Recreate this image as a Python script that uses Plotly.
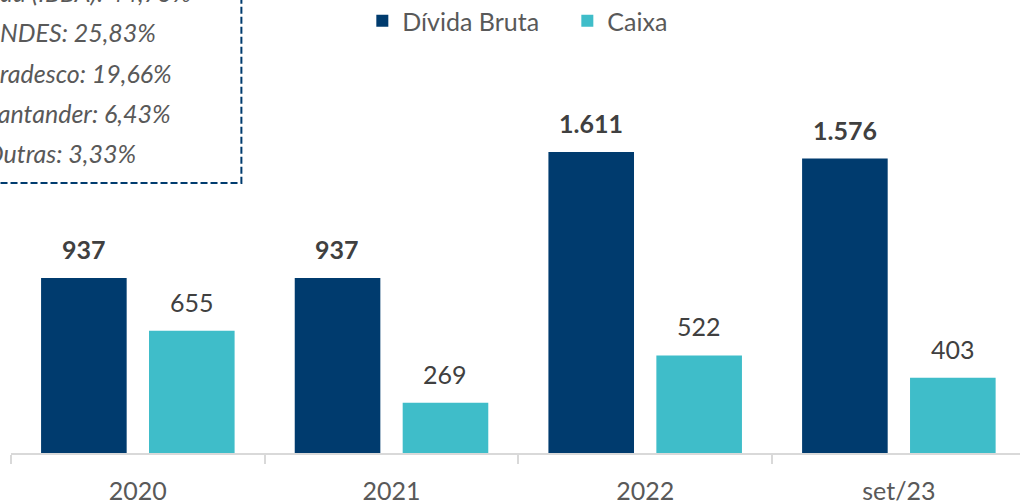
import plotly.graph_objects as go

categories = ["2020", "2021", "2022", "set/23"]
divida_bruta = [937, 937, 1611, 1576]
caixa = [655, 269, 522, 403]
divida_labels = ["937", "937", "1.611", "1.576"]
caixa_labels = ["655", "269", "522", "403"]
box_lines = ["Itaú (IBBA): 44,75%", "BNDES: 25,83%", "Bradesco: 19,66%",
             "Santander: 6,43%", "Outras: 3,33%"]

DARK = "#003B6E"
CYAN = "#3FBDC9"
GRAY = "#595959"
FONT = "Lato"

W, H = 1020, 502
ML, MR, MT, MB = 10.5, 0, 0, 49
PW = W - ML - MR
PH = H - MT - MB
STEP = 253.8


def px(x):
    return (x - ML) / PW


def py(y):
    return (H - MB - y) / PH


fig = go.Figure()
fig.add_trace(go.Bar(name="Dívida Bruta", x=categories, y=divida_bruta,
                     marker=dict(color=DARK, line=dict(width=0))))
fig.add_trace(go.Bar(name="Caixa", x=categories, y=caixa,
                     marker=dict(color=CYAN, line=dict(width=0))))

annotations = []
for i, (v, t) in enumerate(zip(divida_bruta, divida_labels)):
    annotations.append(dict(x=i, y=v, xref="x", yref="y", text="<b>" + t + "</b>",
                            showarrow=False, xshift=-54.2, yshift=12, yanchor="bottom",
                            font=dict(family=FONT, size=25, color="#404040")))
for i, (v, t) in enumerate(zip(caixa, caixa_labels)):
    annotations.append(dict(x=i, y=v, xref="x", yref="y", text=t,
                            showarrow=False, xshift=53.8, yshift=12, yanchor="bottom",
                            font=dict(family=FONT, size=25, color="#404040")))

line_y = [-8, 32, 73, 113, 153]
for t, yy in zip(box_lines, line_y):
    annotations.append(dict(x=px(-18), y=py(yy), xref="paper", yref="paper",
                            text="<i>" + t + "</i>", showarrow=False,
                            xanchor="left", yanchor="middle",
                            font=dict(family=FONT, size=25, color=GRAY)))

fig.update_layout(
    width=W, height=H,
    margin=dict(l=ML, r=MR, t=MT, b=MB, autoexpand=False),
    paper_bgcolor="white", plot_bgcolor="white",
    barmode="group", bargap=0.149, bargroupgap=0.207,
    font=dict(family=FONT, color=GRAY),
    xaxis=dict(type="category", range=[-0.5, -0.5 + PW / STEP], automargin=False,
               showline=True, linecolor="#D9D9D9", linewidth=1.5,
               ticks="outside", tickson="boundaries", ticklen=9, tickcolor="#D9D9D9",
               tickwidth=1.5, ticklabelstandoff=15,
               tickfont=dict(family=FONT, size=25, color=GRAY),
               showgrid=False, zeroline=False, fixedrange=True),
    yaxis=dict(range=[0, PH / 0.1868], visible=False, showgrid=False, zeroline=False,
               fixedrange=True, automargin=False),
    showlegend=True,
    legend=dict(orientation="h", x=px(362), y=py(-2), xanchor="left", yanchor="top",
                entrywidth=160,
                font=dict(family=FONT, size=25, color=GRAY), bgcolor="rgba(0,0,0,0)"),
    annotations=annotations,
    shapes=[dict(type="rect", xref="paper", yref="paper",
                 x0=px(-20), x1=px(241), y0=py(183), y1=py(-20),
                 line=dict(color=DARK, width=2, dash="7px,3px"), fillcolor="rgba(0,0,0,0)")],
)

fig.write_html("out.html", config={"displayModeBar": False},
               post_script="document.body.style.margin='0';")
